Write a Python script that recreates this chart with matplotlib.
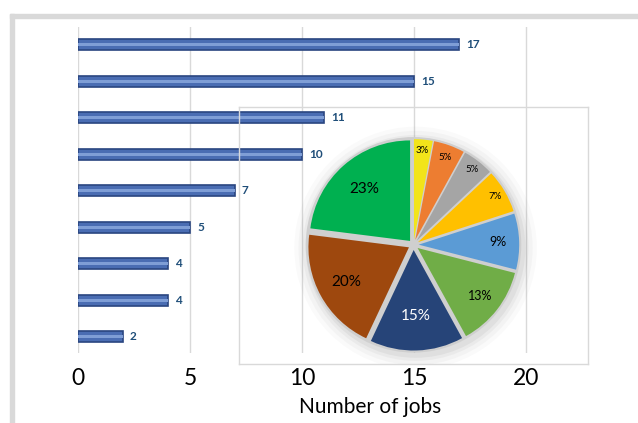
import matplotlib.pyplot as plt
from matplotlib.patches import Rectangle, Circle
import numpy as np

# bar chart data (top to bottom)
job_counts = [17, 15, 11, 10, 7, 5, 4, 4, 2]

# pie data, clockwise from 12 o'clock
pie_shares = [3, 5, 5, 7, 9, 13, 15, 20, 23]
pie_colors = ['#F2E41A', '#ED7D31', '#A5A5A5', '#FFC000', '#5B9BD5',
              '#70AD47', '#264478', '#9E480E', '#00B050']
pie_text_colors = ['black'] * 6 + ['white', 'black', 'black']
pie_label_dist = [0.86, 0.85, 0.87, 0.87, 0.77, 0.76, 0.64, 0.69, 0.67]
pie_label_size = [7, 7, 7, 7, 9, 9, 11, 11, 11]

plt.rcParams['font.family'] = ['Lato', 'DejaVu Sans']

W, H = 638, 423
fig = plt.figure(figsize=(W / 100, H / 100), dpi=100)

# light gray frame on top and left
fig.patches.append(Rectangle((10 / W, 0), 4 / W, 1 - 14 / H, transform=fig.transFigure,
                             color='#d9d9d9', zorder=0))
fig.patches.append(Rectangle((10 / W, 1 - 18 / H), 1, 4 / H, transform=fig.transFigure,
                             color='#d9d9d9', zorder=0))

# bar chart
ax = fig.add_axes([78 / W, 1 - 353 / H, 522 / W, 326 / H])
pos = np.arange(len(job_counts))[::-1]
ax.barh(pos, job_counts, height=0.3, color='#4A6DB3', edgecolor='#2A4680',
        linewidth=1.2, zorder=3)
ax.barh(pos, job_counts, height=0.08, color='#7F9ED6', linewidth=0, zorder=4)
for p, v in zip(pos, job_counts):
    ax.annotate(str(v), (v, p), xytext=(5, 0), textcoords='offset points',
                va='center', ha='left', fontsize=8.5, fontweight='bold',
                color='#1F4E79')
ax.set_xlim(0, 522 / 22.4)
ax.set_ylim(-0.44, 8.49)
ax.set_xticks([0, 5, 10, 15, 20])
ax.set_yticks([])
ax.grid(axis='x', color='#d9d9d9', linewidth=1, zorder=0)
for s in ax.spines.values():
    s.set_visible(False)
ax.tick_params(axis='x', length=0, pad=11, labelsize=16.5)
ax.set_xlabel('Number of jobs', fontsize=15)
ax.xaxis.set_label_coords(0.56, -0.135)

# pie inset
pax = fig.add_axes([239 / W, 1 - 364 / H, 349 / W, 257 / H])

# soft shadow behind the pie
for r, a in [(1.17, 0.04), (1.13, 0.05), (1.09, 0.07), (1.06, 0.10)]:
    pax.add_patch(Circle((0.02, -0.03), r, color='gray', alpha=a, linewidth=0))
pax.add_patch(Circle((0, 0), 1.04, color='#cfcfcf', linewidth=0))

wedges, _ = pax.pie(pie_shares, colors=pie_colors, startangle=90, counterclock=False,
                    explode=[0.05] * len(pie_shares), radius=0.97,
                    wedgeprops=dict(edgecolor='none'))
for w, share, d, c, fs in zip(wedges, pie_shares, pie_label_dist, pie_text_colors,
                              pie_label_size):
    ang = np.deg2rad((w.theta1 + w.theta2) / 2)
    cx, cy = w.center
    pax.text(cx + d * np.cos(ang), cy + d * np.sin(ang), f'{share}%', ha='center',
             va='center', fontsize=fs, color=c)

pax.set_frame_on(True)
pax.patch.set_alpha(0)
for s in pax.spines.values():
    s.set_visible(True)
    s.set_color('#d9d9d9')
    s.set_linewidth(1)
pax.set_xticks([])
pax.set_yticks([])
pax.set_aspect('equal')
pax.set_xlim(-1.68, 1.68)
pax.set_ylim(-1.15, 1.33)

fig.savefig('out.png', dpi=100)
